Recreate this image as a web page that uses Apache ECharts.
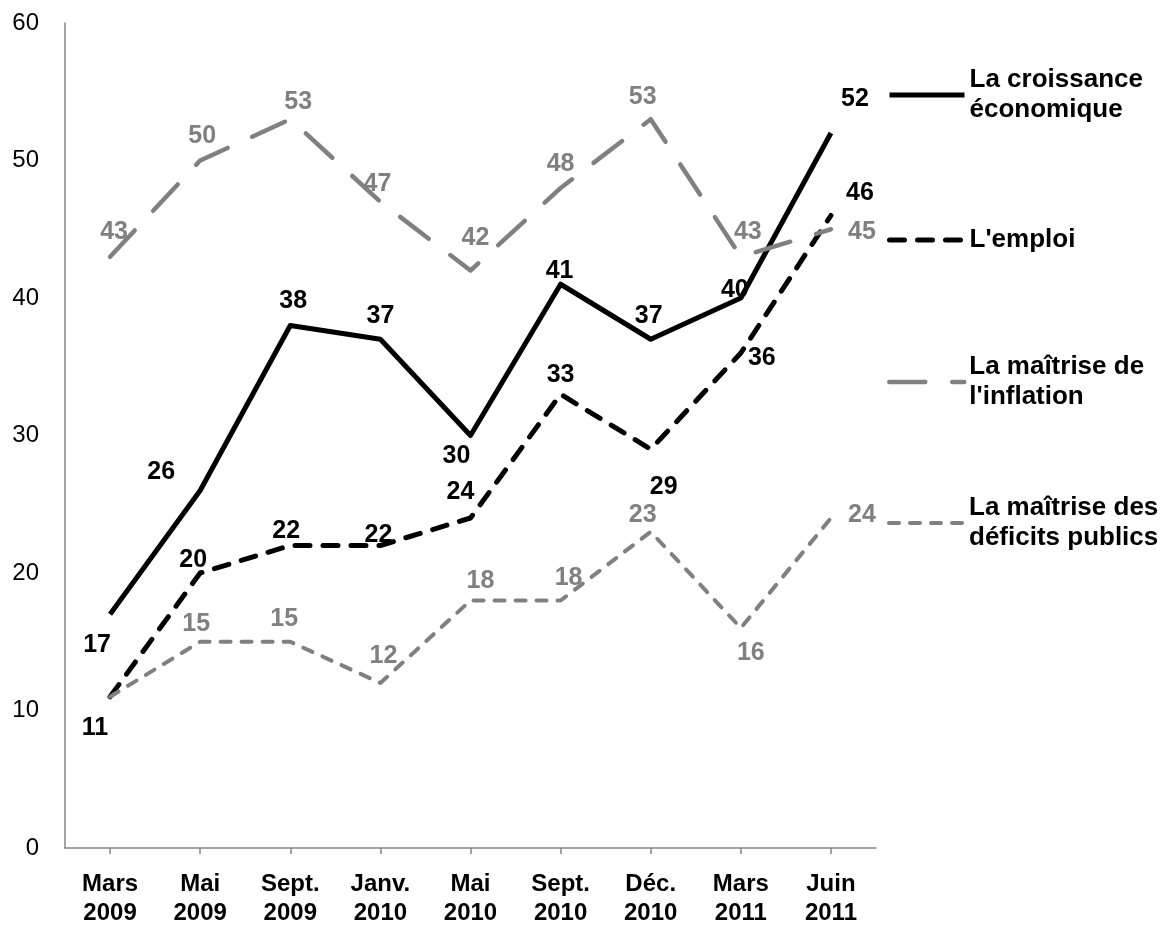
<!DOCTYPE html>
<html>
<head>
<meta charset="utf-8">
<script src="https://cdn.jsdelivr.net/npm/echarts@6/dist/echarts.min.js"></script>
<style>
  html, body { margin: 0; padding: 0; background: #fff; }
  #chart { width: 1168px; height: 928px; }
</style>
</head>
<body>
<div id="chart"></div>
<script>
// ---- Data ----
const categories = ['Mars\n2009', 'Mai\n2009', 'Sept.\n2009', 'Janv.\n2010', 'Mai\n2010', 'Sept.\n2010', 'Déc.\n2010', 'Mars\n2011', 'Juin\n2011'];
const seriesNames = ['La croissance économique', "L'emploi", "La maîtrise de l'inflation", 'La maîtrise des déficits publics'];
const legendLabels = ['La croissance\néconomique', "L'emploi", "La maîtrise de\nl'inflation", 'La maîtrise des\ndéficits publics'];
const croissance = [17, 26, 38, 37, 30, 41, 37, 40, 52];
const emploi = [11, 20, 22, 22, 24, 33, 29, 36, 46];
const inflation = [43, 50, 53, 47, 42, 48, 53, 43, 45];
const deficits = [11, 15, 15, 12, 18, 18, 23, 16, 24];
const yMin = 0, yMax = 60, yStep = 10;

// ---- Layout (label offsets from each point, in px) ----
const croissanceOffsets = [[-13,31],[-39,-18],[3,-24],[0,-23],[-14,21],[-1,-13],[-2,-23],[-6,-8],[24,-34]];
const emploiOffsets = [[-15,31],[-7,-13],[-4,-14],[-2,-10],[-10,-26],[0,-19],[13,38],[21,5],[29,-22]];
const inflationOffsets = [[4,-25],[2,-24],[8,-17],[-3,-18],[5,-32],[0,-24],[-8,-22],[7,-25],[31,3]];
const deficitOffsets = [null,[-4,-18],[-6,-23],[3,-27],[10,-19],[8,-22],[-8,-17],[10,25],[31,-3]];

const FONT = '"Liberation Sans", Arial, sans-serif';
const GRAY = '#808080';

function withLabels(values, offsets) {
  return values.map((v, i) => {
    const off = offsets[i];
    if (!off) return { value: v, label: { show: false } };
    return { value: v, label: { show: true, offset: off } };
  });
}

const styles = [
  { color: '#000', width: 5, type: 'solid', cap: 'butt' },
  { color: '#000', width: 5, type: [15, 13], cap: 'round' },
  { color: GRAY, width: 4.5, type: [36, 27], cap: 'round' },
  { color: GRAY, width: 4, type: [10, 11], cap: 'round' }
];

function makeSeries(i, values, offsets) {
  const s = styles[i];
  return {
    name: seriesNames[i],
    type: 'line',
    data: withLabels(values, offsets),
    symbol: 'circle',
    symbolSize: 0.01,
    silent: true,
    animation: false,
    color: s.color,
    itemStyle: { color: s.color, borderWidth: 0 },
    lineStyle: { color: s.color, width: s.width, type: s.type, cap: s.cap, join: 'round' },
    label: {
      show: true,
      position: 'inside',
      color: s.color,
      fontFamily: FONT,
      fontWeight: 'bold',
      fontSize: 25,
      formatter: '{c}'
    },
    emphasis: { disabled: true }
  };
}

const chart = echarts.init(document.getElementById('chart'));

function legendFor(i, top) {
  const s = styles[i];
  const twoLines = legendLabels[i].indexOf('\n') >= 0;
  return {
    data: [seriesNames[i]],
    left: 887,
    top: top,
    padding: 0,
    itemWidth: 75,
    itemHeight: 14,
    itemGap: 0,
    selectedMode: false,
    itemStyle: { opacity: 0, borderWidth: 0 },
    lineStyle: { width: s.width, type: s.type, cap: s.cap, color: s.color },
    formatter: function () { return legendLabels[i]; },
    textStyle: {
      fontFamily: FONT,
      fontWeight: 'bold',
      fontSize: 26,
      color: '#000',
      lineHeight: 30,
      padding: twoLines ? [30, 0, 0, 0] : 0
    }
  };
}

chart.setOption({
  animation: false,
  backgroundColor: '#fff',
  grid: { left: 65, right: 292, top: 23, bottom: 76, containLabel: false },
  legend: [legendFor(0, 50), legendFor(1, 225), legendFor(2, 337), legendFor(3, 478)],
  xAxis: {
    type: 'category',
    data: categories,
    boundaryGap: true,
    axisLine: { lineStyle: { color: '#868686', width: 1.5 } },
    axisTick: { show: true, alignWithLabel: true, length: 6, lineStyle: { color: '#868686', width: 1.5 } },
    axisLabel: {
      interval: 0,
      margin: 22,
      color: '#000',
      fontFamily: FONT,
      fontWeight: 'bold',
      fontSize: 24,
      lineHeight: 29
    },
    splitLine: { show: false }
  },
  yAxis: {
    type: 'value',
    min: yMin,
    max: yMax,
    interval: yStep,
    axisLine: { show: true, lineStyle: { color: '#868686', width: 1.5 } },
    axisTick: { show: false },
    axisLabel: { margin: 26, color: '#000', fontFamily: FONT, fontSize: 24 },
    splitLine: { show: false }
  },
  series: [
    makeSeries(0, croissance, croissanceOffsets),
    makeSeries(1, emploi, emploiOffsets),
    makeSeries(2, inflation, inflationOffsets),
    makeSeries(3, deficits, deficitOffsets)
  ]
});
</script>
</body>
</html>
